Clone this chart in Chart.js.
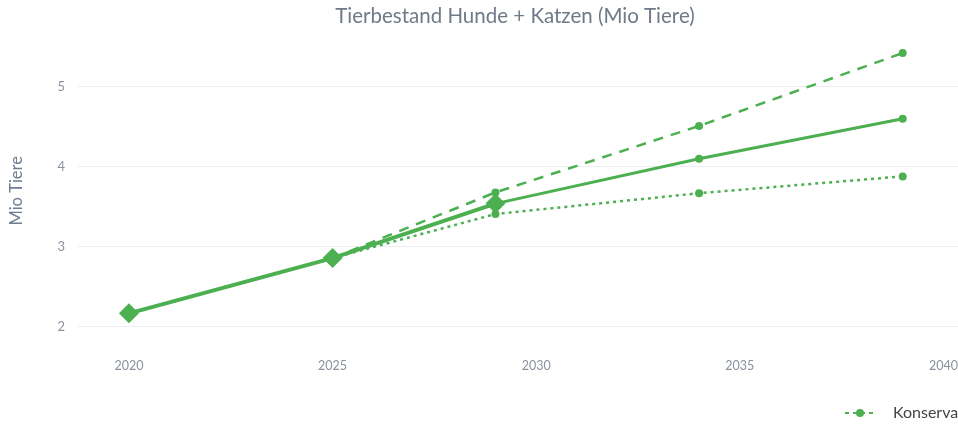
<!DOCTYPE html>
<html>
<head>
<meta charset="utf-8">
<script src="https://cdn.jsdelivr.net/npm/chart.js@4.4.1/dist/chart.umd.min.js"></script>
<style>
  html, body { margin: 0; padding: 0; background: #fff; overflow: hidden; }
  #wrap { width: 1030px; height: 430px; position: relative; }
</style>
</head>
<body>
<div id="wrap"><canvas id="petChart"></canvas></div>
<script>
const histYears = [2020, 2025, 2029];
const histValues = [2.17, 2.86, 3.54];

const basisYears = [2029, 2034, 2039];
const basisValues = [3.54, 4.10, 4.60];

const scenYears = [2025, 2029, 2034, 2039];
const optimValues = [2.86, 3.68, 4.51, 5.42];
const konsValues = [2.86, 3.41, 3.67, 3.88];

const xTicks = [2020, 2025, 2030, 2035, 2040];
const yTicks = [2, 3, 4, 5];

const green = 'rgb(76, 175, 80)';
const fontFam = 'Lato, "Noto Sans", sans-serif';

const toXY = (xs, ys) => xs.map((x, i) => ({ x: x, y: ys[i] }));

// draws the single (cut off) legend entry at the bottom right
const konsLegend = {
  id: 'konsLegend',
  afterDraw(chart) {
    const ds = chart.data.datasets[3];
    const ctx = chart.ctx;
    const y = 413;
    ctx.save();
    ctx.strokeStyle = ds.borderColor;
    ctx.lineWidth = 2;
    ctx.setLineDash([4, 4]);
    ctx.beginPath();
    ctx.moveTo(845, y);
    ctx.lineTo(876, y);
    ctx.stroke();
    ctx.setLineDash([]);
    ctx.fillStyle = ds.borderColor;
    ctx.beginPath();
    ctx.arc(860, y, 4, 0, Math.PI * 2);
    ctx.fill();
    ctx.fillStyle = '#444';
    ctx.font = '16px ' + fontFam;
    ctx.textBaseline = 'middle';
    ctx.fillText(ds.label, 893, y);
    ctx.restore();
  }
};

new Chart(document.getElementById('petChart').getContext('2d'), {
  type: 'line',
  data: {
    datasets: [
      {
        label: 'Historisch',
        data: toXY(histYears, histValues),
        borderColor: green,
        backgroundColor: green,
        borderWidth: 4,
        pointStyle: 'rectRot',
        pointRadius: 10,
        pointBorderWidth: 0
      },
      {
        label: 'Basis',
        data: toXY(basisYears, basisValues),
        borderColor: green,
        backgroundColor: green,
        borderWidth: 3,
        pointRadius: [0, 4, 4],
        pointBorderWidth: 0
      },
      {
        label: 'Optimistisch',
        data: toXY(scenYears, optimValues),
        borderColor: green,
        backgroundColor: green,
        borderWidth: 2.5,
        borderDash: [10, 8],
        pointRadius: [0, 4, 4, 4],
        pointBorderWidth: 0
      },
      {
        label: 'Konservativ',
        data: toXY(scenYears, konsValues),
        borderColor: green,
        backgroundColor: green,
        borderWidth: 2.5,
        borderDash: [3, 4],
        pointRadius: [0, 4, 4, 4],
        pointBorderWidth: 0
      }
    ]
  },
  options: {
    responsive: true,
    maintainAspectRatio: false,
    animation: false,
    layout: { padding: { left: 0, right: 0, top: 0, bottom: 37 } },
    plugins: {
      legend: { display: false },
      tooltip: { enabled: false },
      title: {
        display: true,
        text: 'Tierbestand Hunde + Katzen (Mio Tiere)',
        color: '#6f7a88',
        font: { family: fontFam, size: 20.5, weight: 'normal' },
        padding: { top: 4, bottom: 10 }
      }
    },
    scales: {
      x: {
        type: 'linear',
        min: 2018.75,
        max: 2041.88,
        afterBuildTicks: axis => { axis.ticks = xTicks.map(v => ({ value: v })); },
        afterFit: axis => { axis.height = 50; },
        grid: { display: false, drawTicks: false },
        border: { display: false },
        ticks: {
          color: '#8a929c',
          font: { family: fontFam, size: 12.5 },
          padding: 15,
          maxRotation: 0,
          callback: v => String(v)
        }
      },
      y: {
        min: 1.8,
        max: 5.6,
        afterBuildTicks: axis => { axis.ticks = yTicks.map(v => ({ value: v })); },
        afterFit: axis => { axis.width = 78; },
        grid: { color: '#eceef1', lineWidth: 1, drawTicks: false },
        border: { display: false },
        ticks: {
          color: '#8a929c',
          font: { family: fontFam, size: 13 },
          padding: 13
        },
        title: {
          display: true,
          text: 'Mio Tiere',
          color: '#6e7d92',
          font: { family: fontFam, size: 16.5 },
          padding: { top: 7, bottom: 0 }
        }
      }
    }
  },
  plugins: [konsLegend]
});
</script>
</body>
</html>
